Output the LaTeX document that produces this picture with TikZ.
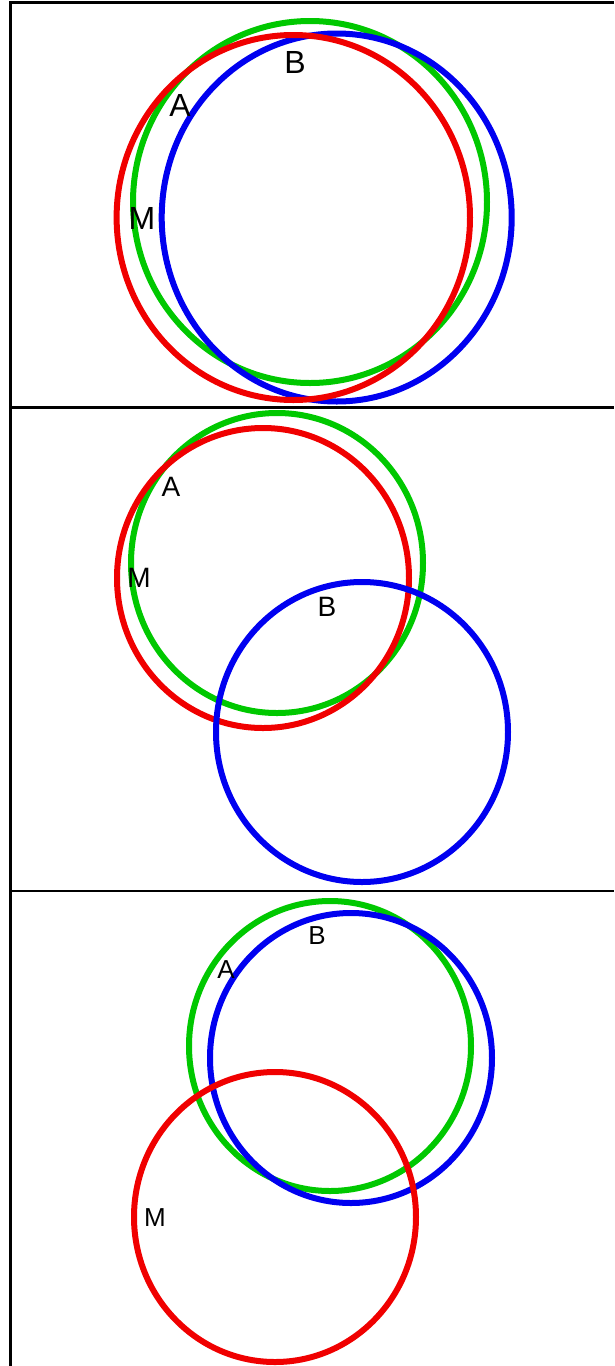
\documentclass[tikz,border=0pt]{standalone}
\usepackage{fontspec}
\setmainfont{Liberation Sans}
\definecolor{cgreen}{RGB}{0,200,0}
\definecolor{cred}{RGB}{240,0,0}
\definecolor{cblue}{RGB}{0,0,240}
\tikzset{
  frame/.style={line width=2.8pt, black},
  ring/.style={line width=6pt},
  lblA/.style={inner sep=0pt, font=\fontsize{32}{32}\selectfont},
  lblB/.style={inner sep=0pt, font=\fontsize{28}{28}\selectfont},
  lblC/.style={inner sep=0pt, font=\fontsize{26}{26}\selectfont}
}
\begin{document}
\begin{tikzpicture}[x=1pt,y=-1pt]
\useasboundingbox (0,0) rectangle (614,1366);
% frame
\draw[frame] (10.7,1366) -- (10.7,2.7) -- (614,2.7);
\draw[frame] (10.7,407.7) -- (614,407.7);
\draw[frame] (10.7,891) -- (614,891);
% panel 1
\draw[ring, cgreen] (310,202) ellipse [x radius=177, y radius=181];
\draw[ring, cblue] (336.7,217.5) ellipse [x radius=175, y radius=184];
\draw[ring, cred] (293.3,217.5) ellipse [x radius=176.7, y radius=182.5];
\node[lblA] (b1) at (295,62) {B};
\node[lblA] (a1) at (180,105) {A};
\node[lblA] (m1) at (142,218) {M};
% panel 2
\draw[ring, cgreen] (277,563) ellipse [x radius=146, y radius=150];
\draw[ring, cred] (263,578) ellipse [x radius=146, y radius=150];
\draw[ring, cblue] (362,732) ellipse [x radius=146, y radius=150];
\node[lblB] (a2) at (171,487) {A};
\node[lblB] (m2) at (139,578) {M};
\node[lblB] (b2) at (327,607) {B};
% panel 3
\draw[ring, cgreen] (330,1046) ellipse [x radius=141, y radius=145];
\draw[ring, cblue] (351,1058) ellipse [x radius=141, y radius=145];
\draw[ring, cred] (275,1217) ellipse [x radius=141, y radius=145];
\node[lblC] (b3) at (317,936) {B};
\node[lblC] (a3) at (226,970) {A};
\node[lblC] (m3) at (155,1218) {M};
\end{tikzpicture}
\end{document}
